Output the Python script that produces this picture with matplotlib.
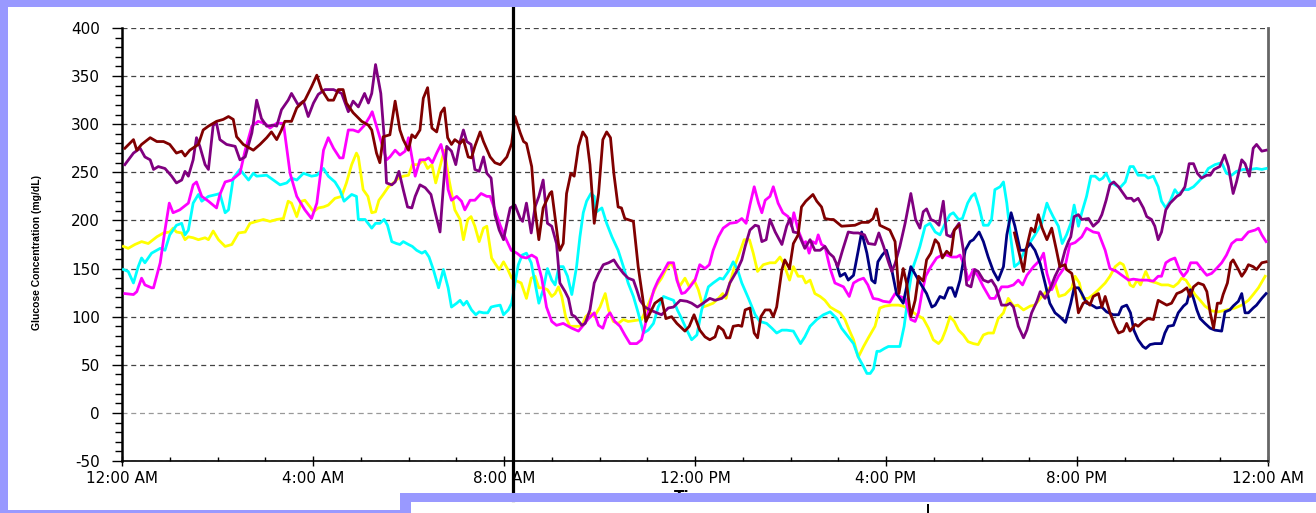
import numpy as np
import matplotlib
matplotlib.use('Agg')
import matplotlib.pyplot as plt
from matplotlib.patches import Rectangle
from matplotlib.ticker import MultipleLocator

plt.rcParams['axes.unicode_minus'] = False

# glucose readings, (hour of day, mg/dL); nan = gap in the trace
maroon = [
    (0.06, 275), (0.24, 284), (0.31, 273), (0.41, 279), (0.59, 286), (0.73, 282), (0.87, 282), (1.00, 279),
    (1.14, 270), (1.25, 272), (1.32, 267), (1.42, 273), (1.60, 279), (1.70, 294), (1.81, 298), (1.98, 303),
    (2.12, 305), (2.23, 308), (2.33, 305), (2.40, 287), (2.54, 279), (2.75, 273), (2.89, 279), (3.03, 286),
    (3.13, 292), (3.24, 284), (3.34, 294), (3.41, 303), (3.55, 303), (3.66, 317), (3.83, 325), (3.97, 339),
    (4.08, 351), (4.18, 336), (4.32, 325), (4.43, 325), (4.53, 336), (4.63, 336), (4.70, 322), (4.84, 312),
    (5.02, 303), (5.16, 299), (5.23, 294), (5.33, 270), (5.40, 260), (5.47, 287), (5.61, 289), (5.72, 324),
    (5.82, 294), (5.89, 284), (6.00, 273), (6.07, 289), (6.14, 286), (6.24, 294), (6.31, 327), (6.40, 338),
    (6.49, 296), (6.59, 292), (6.68, 312), (6.75, 317), (6.82, 286), (6.90, 279), (6.97, 284), (7.08, 280),
    (7.15, 284), (7.25, 266), (7.32, 265), (7.39, 277), (7.50, 292), (7.57, 282), (7.71, 266), (7.81, 260),
    (7.92, 258), (8.06, 266), (8.16, 280), (8.23, 308), (8.34, 291), (8.41, 282), (8.47, 280), (8.58, 256),
    (8.65, 211), (8.73, 180), (8.82, 213), (8.96, 228), (9.00, 230), (9.14, 176), (9.17, 169), (9.24, 176),
    (9.31, 228), (9.40, 249), (9.47, 246), (9.56, 277), (9.65, 292), (9.73, 286), (9.80, 258), (9.89, 197),
    (9.98, 228), (10.07, 284), (10.15, 292), (10.23, 286), (10.30, 249), (10.39, 214), (10.46, 213), (10.53, 202),
    (10.71, 199), (10.81, 152), (10.90, 121), (10.97, 95), (11.06, 104), (11.16, 114), (11.30, 119), (11.39, 98),
    (11.51, 100), (11.62, 93), (11.79, 85), (11.88, 90), (11.98, 102), (12.10, 86), (12.21, 79), (12.31, 76),
    (12.42, 79), (12.49, 90), (12.59, 86), (12.66, 78), (12.73, 78), (12.80, 90), (12.91, 91), (12.98, 90),
    (13.05, 107), (13.15, 109), (13.24, 83), (13.31, 78), (13.38, 100), (13.47, 107), (13.57, 107), (13.64, 100),
    (13.71, 110), (13.82, 149), (13.88, 159), (13.98, 150), (14.06, 176), (14.16, 185), (14.23, 214), (14.32, 220),
    (14.47, 227), (14.55, 220), (14.65, 214), (14.72, 202), (14.83, 201), (14.90, 201), (15.07, 194), (15.35, 195),
    (15.49, 198), (15.63, 198), (15.73, 202), (15.80, 212), (15.87, 195), (16.08, 190), (16.19, 178), (16.27, 124),
    (16.36, 150), (16.43, 135), (16.52, 100), (16.61, 117), (16.68, 142), (16.78, 137), (16.85, 159), (16.94, 166),
    (17.03, 180), (17.10, 176), (17.18, 161), (17.27, 168), (17.36, 164), (17.43, 190), (17.53, 195),
    (np.nan, np.nan),
    (18.69, 187), (18.88, 147), (18.95, 173), (19.04, 192), (19.11, 188), (19.19, 206), (19.27, 192), (19.37, 180),
    (19.47, 192), (19.57, 169), (19.64, 152), (19.75, 154), (19.78, 149), (19.89, 145), (19.96, 128), (20.03, 104),
    (20.13, 114), (20.20, 116), (20.27, 112), (20.34, 121), (20.45, 124), (20.52, 110), (20.59, 121), (20.69, 104),
    (20.80, 90), (20.87, 83), (20.97, 85), (21.04, 93), (21.11, 85), (21.22, 92), (21.28, 90), (21.39, 95),
    (21.49, 98), (21.60, 97), (21.70, 117), (21.81, 114), (21.88, 112), (21.98, 114), (22.09, 124), (22.19, 126),
    (22.30, 130), (22.37, 121), (22.44, 131), (22.54, 135), (22.65, 133), (22.72, 126), (22.79, 104), (22.86, 88),
    (22.94, 114), (23.01, 114), (23.06, 123), (23.15, 135), (23.22, 156), (23.27, 159), (23.38, 149), (23.45, 142),
    (23.52, 147), (23.59, 154), (23.69, 152), (23.76, 149), (23.87, 156), (23.96, 157),
]

purple = [
    (0.06, 258), (0.24, 270), (0.38, 275), (0.48, 266), (0.59, 263), (0.66, 253), (0.76, 256), (0.90, 254),
    (1.04, 246), (1.14, 239), (1.25, 242), (1.32, 251), (1.39, 246), (1.49, 263), (1.56, 286), (1.63, 277),
    (1.74, 258), (1.81, 253), (1.91, 299), (1.98, 301), (2.05, 284), (2.19, 279), (2.37, 277), (2.47, 263),
    (2.58, 266), (2.72, 291), (2.82, 325), (2.92, 306), (3.03, 298), (3.17, 299), (3.24, 298), (3.34, 315),
    (3.48, 325), (3.55, 332), (3.69, 320), (3.80, 324), (3.90, 308), (4.01, 322), (4.11, 331), (4.25, 336),
    (4.43, 336), (4.60, 332), (4.74, 313), (4.84, 324), (4.95, 318), (5.08, 332), (5.16, 322), (5.23, 332),
    (5.31, 362), (5.42, 332), (5.49, 287), (5.54, 239), (5.65, 237), (5.72, 240), (5.80, 251), (5.89, 232),
    (5.98, 214), (6.07, 213), (6.14, 225), (6.24, 237), (6.35, 234), (6.47, 227), (6.56, 208), (6.66, 188),
    (6.73, 235), (6.80, 277), (6.90, 272), (6.99, 258), (7.08, 282), (7.15, 294), (7.22, 282), (7.31, 279),
    (7.39, 253), (7.48, 251), (7.57, 266), (7.64, 249), (7.73, 244), (7.81, 206), (7.90, 190), (7.99, 180),
    (8.06, 197), (8.13, 213), (8.23, 216), (8.34, 202), (8.39, 199), (8.47, 218), (8.57, 187), (8.65, 214),
    (8.73, 225), (8.82, 242), (8.91, 197), (9.00, 194), (9.10, 176), (9.17, 135), (9.28, 126), (9.35, 119),
    (9.42, 102), (9.49, 100), (9.63, 91), (9.70, 93), (9.80, 107), (9.89, 135), (9.98, 145), (10.08, 154),
    (10.19, 156), (10.30, 159), (10.39, 152), (10.50, 145), (10.60, 140), (10.71, 138), (10.78, 128), (10.85, 117),
    (10.95, 110), (11.06, 107), (11.20, 104), (11.30, 102), (11.44, 109), (11.55, 110), (11.69, 117), (11.83, 116),
    (11.93, 114), (12.05, 110), (12.17, 114), (12.31, 119), (12.42, 117), (12.56, 119), (12.65, 123), (12.73, 135),
    (12.87, 147), (12.98, 159), (13.05, 173), (13.15, 190), (13.26, 195), (13.33, 194), (13.40, 178), (13.49, 180),
    (13.57, 201), (13.68, 188), (13.82, 175), (13.92, 194), (13.99, 202), (14.06, 188), (14.16, 187), (14.30, 171),
    (14.41, 180), (14.51, 169), (14.62, 169), (14.72, 173), (14.81, 166), (14.90, 162), (14.99, 152), (15.09, 169),
    (15.21, 188), (15.32, 187), (15.42, 187), (15.55, 185), (15.63, 176), (15.77, 175), (15.85, 187), (15.95, 173),
    (16.05, 157), (16.12, 147), (16.19, 155), (16.29, 173), (16.40, 197), (16.52, 228), (16.62, 201), (16.71, 192),
    (16.78, 209), (16.85, 212), (16.94, 201), (17.03, 199), (17.11, 195), (17.20, 220), (17.27, 185), (17.36, 183),
    (17.43, 190), (17.53, 197), (17.62, 169), (17.69, 133), (17.78, 131), (17.86, 149), (17.93, 147), (18.04, 138),
    (18.14, 136), (18.21, 138), (18.30, 131), (18.42, 112), (18.53, 112), (18.60, 114), (18.67, 110), (18.77, 90),
    (18.88, 78), (18.95, 86), (19.05, 104), (19.16, 116), (19.23, 126), (19.33, 119), (19.43, 128), (19.54, 142),
    (19.61, 149), (19.68, 156), (19.75, 169), (19.82, 178), (19.87, 183), (19.94, 204), (20.03, 206), (20.10, 201),
    (20.24, 202), (20.34, 194), (20.45, 199), (20.52, 206), (20.61, 221), (20.69, 237), (20.77, 240), (20.87, 235),
    (20.97, 228), (21.04, 223), (21.14, 223), (21.19, 220), (21.28, 223), (21.39, 213), (21.46, 204), (21.56, 201),
    (21.63, 194), (21.70, 180), (21.77, 188), (21.86, 211), (21.95, 218), (22.09, 225), (22.16, 227), (22.26, 235),
    (22.35, 259), (22.44, 259), (22.52, 249), (22.61, 244), (22.72, 247), (22.79, 247), (22.87, 253), (22.99, 256),
    (23.09, 268), (23.17, 256), (23.27, 228), (23.34, 240), (23.45, 263), (23.52, 259), (23.61, 246), (23.69, 275),
    (23.76, 279), (23.87, 272), (23.96, 273),
]

magenta = [
    (0.06, 124), (0.24, 123), (0.31, 126), (0.41, 140), (0.48, 133), (0.62, 130), (0.66, 130), (0.80, 156),
    (0.90, 190), (0.99, 218), (1.07, 208), (1.21, 211), (1.39, 218), (1.49, 237), (1.56, 240), (1.67, 225),
    (1.81, 220), (1.98, 213), (2.05, 227), (2.16, 240), (2.30, 242), (2.47, 249), (2.58, 273), (2.72, 298),
    (2.85, 303), (2.99, 301), (3.10, 296), (3.24, 301), (3.38, 301), (3.52, 249), (3.66, 225), (3.83, 211),
    (3.97, 202), (4.08, 218), (4.22, 273), (4.32, 286), (4.43, 275), (4.56, 265), (4.63, 265), (4.74, 294),
    (4.84, 294), (4.95, 292), (5.08, 299), (5.19, 308), (5.24, 313), (5.33, 298), (5.44, 280), (5.54, 263),
    (5.61, 266), (5.72, 273), (5.82, 268), (5.93, 272), (6.00, 286), (6.08, 263), (6.14, 246), (6.24, 263),
    (6.35, 263), (6.42, 265), (6.50, 260), (6.59, 270), (6.68, 279), (6.76, 263), (6.83, 232), (6.90, 221),
    (7.01, 225), (7.11, 220), (7.18, 211), (7.29, 221), (7.39, 221), (7.52, 228), (7.64, 225), (7.71, 225),
    (7.81, 211), (7.92, 195), (8.02, 183), (8.15, 169), (8.27, 166), (8.37, 162), (8.47, 161), (8.58, 164),
    (8.68, 161), (8.79, 140), (8.89, 110), (9.00, 95), (9.10, 91), (9.24, 93), (9.42, 88), (9.56, 85),
    (9.66, 91), (9.77, 98), (9.89, 104), (9.98, 91), (10.07, 88), (10.15, 100), (10.22, 104), (10.32, 95),
    (10.43, 90), (10.53, 81), (10.64, 72), (10.78, 72), (10.88, 76), (10.95, 90), (11.06, 114), (11.14, 128),
    (11.23, 138), (11.34, 147), (11.44, 156), (11.55, 156), (11.62, 138), (11.72, 124), (11.79, 125), (11.88, 130),
    (12.00, 138), (12.10, 154), (12.21, 150), (12.30, 154), (12.38, 169), (12.49, 183), (12.59, 192), (12.73, 197),
    (12.87, 198), (12.98, 202), (13.07, 197), (13.15, 216), (13.24, 235), (13.33, 218), (13.40, 208), (13.47, 221),
    (13.57, 225), (13.64, 235), (13.74, 218), (13.84, 208), (13.95, 204), (14.02, 194), (14.07, 208), (14.16, 190),
    (14.27, 176), (14.32, 178), (14.39, 166), (14.46, 178), (14.53, 176), (14.58, 185), (14.65, 175), (14.72, 173),
    (14.83, 150), (14.93, 135), (15.11, 131), (15.23, 121), (15.32, 135), (15.42, 138), (15.53, 140), (15.62, 133),
    (15.73, 119), (15.84, 118), (15.94, 116), (16.08, 115), (16.19, 124), (16.29, 121), (16.40, 119), (16.52, 97),
    (16.61, 95), (16.68, 104), (16.75, 124), (16.83, 142), (16.94, 152), (17.06, 161), (17.17, 164), (17.27, 164),
    (17.38, 162), (17.48, 162), (17.55, 164), (17.65, 152), (17.72, 138), (17.83, 149), (17.93, 142), (18.04, 131),
    (18.18, 119), (18.28, 119), (18.42, 131), (18.55, 131), (18.67, 133), (18.77, 138), (18.86, 133), (18.95, 143),
    (19.09, 152), (19.23, 159), (19.30, 166), (19.37, 145), (19.47, 128), (19.61, 142), (19.75, 152), (19.85, 175),
    (19.96, 177), (20.10, 183), (20.20, 192), (20.34, 188), (20.45, 187), (20.59, 169), (20.69, 150), (20.83, 147),
    (20.97, 142), (21.08, 138), (21.18, 139), (21.32, 138), (21.46, 138), (21.60, 137), (21.70, 142), (21.77, 142),
    (21.86, 156), (21.95, 159), (22.05, 161), (22.16, 147), (22.23, 142), (22.31, 147), (22.38, 156), (22.51, 156),
    (22.65, 147), (22.72, 143), (22.82, 145), (22.92, 150), (23.03, 156), (23.13, 164), (23.24, 176), (23.34, 180),
    (23.45, 180), (23.59, 188), (23.73, 190), (23.80, 192), (23.87, 185), (23.96, 178),
]

cyan = [
    (0.03, 149), (0.13, 147), (0.24, 135), (0.34, 152), (0.41, 161), (0.48, 156), (0.62, 166), (0.80, 171),
    (0.90, 169), (1.00, 185), (1.14, 195), (1.25, 197), (1.32, 185), (1.39, 190), (1.49, 218), (1.60, 227),
    (1.67, 220), (1.81, 225), (1.98, 227), (2.05, 228), (2.16, 208), (2.23, 211), (2.33, 244), (2.47, 253),
    (2.65, 242), (2.75, 249), (2.82, 246), (3.03, 247), (3.17, 242), (3.31, 237), (3.45, 239), (3.55, 244),
    (3.66, 242), (3.80, 249), (3.97, 246), (4.08, 247), (4.22, 254), (4.32, 246), (4.46, 240), (4.56, 232),
    (4.65, 220), (4.81, 227), (4.91, 225), (4.95, 201), (5.09, 201), (5.23, 192), (5.31, 197), (5.40, 197),
    (5.49, 201), (5.56, 195), (5.65, 178), (5.75, 176), (5.82, 175), (5.89, 178), (6.00, 175), (6.08, 173),
    (6.17, 169), (6.28, 166), (6.35, 168), (6.43, 162), (6.52, 149), (6.63, 130), (6.73, 149), (6.83, 130),
    (6.90, 110), (7.01, 114), (7.08, 117), (7.15, 112), (7.22, 116), (7.32, 107), (7.41, 102), (7.48, 105),
    (7.57, 104), (7.66, 104), (7.73, 110), (7.81, 111), (7.92, 112), (7.99, 102), (8.09, 107), (8.16, 114),
    (8.23, 135), (8.30, 154), (8.38, 164), (8.47, 166), (8.57, 156), (8.65, 135), (8.73, 114), (8.82, 128),
    (8.91, 150), (9.00, 138), (9.07, 133), (9.15, 152), (9.24, 152), (9.33, 142), (9.42, 123), (9.52, 152),
    (9.59, 183), (9.66, 208), (9.73, 220), (9.82, 228), (9.89, 225), (9.91, 208), (10.05, 213), (10.15, 197),
    (10.26, 183), (10.39, 169), (10.50, 152), (10.60, 135), (10.71, 121), (10.81, 104), (10.92, 83), (11.02, 86),
    (11.13, 93), (11.23, 110), (11.34, 121), (11.44, 119), (11.55, 117), (11.63, 107), (11.72, 98), (11.83, 86),
    (11.93, 76), (12.04, 81), (12.14, 107), (12.28, 131), (12.38, 135), (12.52, 140), (12.59, 139), (12.70, 147),
    (12.80, 157), (12.89, 149), (12.98, 135), (13.12, 119), (13.26, 102), (13.36, 95), (13.50, 93), (13.61, 88),
    (13.71, 83), (13.82, 86), (13.92, 86), (14.06, 85), (14.21, 72), (14.30, 79), (14.41, 90), (14.55, 97),
    (14.69, 102), (14.83, 105), (14.97, 98), (15.07, 88), (15.21, 79), (15.32, 72), (15.42, 58), (15.53, 48),
    (15.60, 41), (15.67, 41), (15.74, 46), (15.81, 64), (15.87, 64), (15.97, 67), (16.05, 69), (16.15, 69),
    (16.29, 69), (16.38, 90), (16.47, 124), (16.55, 149), (16.64, 162), (16.71, 173), (16.82, 194), (16.92, 197),
    (17.03, 188), (17.13, 185), (17.24, 197), (17.34, 206), (17.41, 208), (17.52, 201), (17.60, 202), (17.71, 218),
    (17.79, 225), (17.86, 228), (17.95, 214), (18.04, 195), (18.14, 195), (18.21, 201), (18.28, 232), (18.39, 235),
    (18.46, 240), (18.53, 218), (18.61, 183), (18.69, 152), (18.79, 156), (18.88, 166), (19.00, 176), (19.12, 185),
    (19.26, 197), (19.37, 218), (19.41, 213), (19.50, 204), (19.61, 194), (19.69, 176), (19.78, 185), (19.87, 197),
    (19.94, 216), (20.03, 194), (20.10, 208), (20.20, 225), (20.29, 246), (20.38, 246), (20.47, 242), (20.54, 244),
    (20.61, 249), (20.69, 240), (20.80, 237), (20.90, 234), (21.01, 240), (21.11, 256), (21.18, 256), (21.28, 247),
    (21.42, 247), (21.49, 244), (21.60, 246), (21.70, 235), (21.77, 220), (21.86, 213), (21.95, 220), (22.05, 232),
    (22.12, 227), (22.23, 232), (22.33, 232), (22.44, 235), (22.54, 240), (22.65, 246), (22.75, 254), (22.89, 258),
    (23.03, 260), (23.13, 249), (23.24, 247), (23.34, 251), (23.48, 253), (23.62, 253), (23.76, 254), (23.87, 253),
    (23.96, 254),
]

yellow = [
    (0.03, 173), (0.13, 171), (0.27, 175), (0.41, 178), (0.55, 176), (0.73, 183), (0.87, 187), (1.00, 188),
    (1.07, 192), (1.14, 188), (1.25, 187), (1.32, 180), (1.39, 183), (1.49, 182), (1.60, 180), (1.74, 182),
    (1.81, 180), (1.91, 189), (2.02, 180), (2.16, 173), (2.30, 175), (2.44, 187), (2.58, 188), (2.68, 197),
    (2.82, 199), (2.96, 201), (3.10, 199), (3.24, 201), (3.38, 202), (3.48, 220), (3.55, 218), (3.66, 204),
    (3.76, 220), (3.83, 221), (3.94, 214), (4.01, 209), (4.11, 213), (4.22, 214), (4.32, 216), (4.46, 223),
    (4.60, 225), (4.70, 239), (4.81, 258), (4.91, 270), (4.95, 266), (5.05, 232), (5.15, 225), (5.23, 208),
    (5.31, 209), (5.38, 221), (5.47, 227), (5.58, 235), (5.68, 239), (5.79, 244), (5.89, 246), (6.00, 247),
    (6.08, 258), (6.21, 258), (6.31, 263), (6.40, 254), (6.49, 258), (6.57, 239), (6.66, 256), (6.75, 273),
    (6.85, 242), (6.97, 211), (7.08, 201), (7.15, 180), (7.24, 201), (7.31, 204), (7.39, 194), (7.48, 178),
    (7.57, 192), (7.64, 194), (7.74, 161), (7.83, 154), (7.90, 149), (7.99, 157), (8.08, 149), (8.16, 140),
    (8.27, 137), (8.36, 135), (8.47, 119), (8.57, 140), (8.65, 142), (8.73, 130), (8.82, 130), (8.91, 128),
    (9.00, 121), (9.07, 124), (9.14, 131), (9.21, 121), (9.29, 100), (9.38, 90), (9.52, 90), (9.63, 90),
    (9.71, 100), (9.80, 104), (9.89, 100), (10.01, 110), (10.12, 124), (10.19, 107), (10.29, 95), (10.39, 93),
    (10.50, 97), (10.60, 95), (10.74, 96), (10.88, 97), (10.99, 109), (11.09, 121), (11.20, 133), (11.30, 140),
    (11.39, 149), (11.49, 156), (11.58, 149), (11.67, 131), (11.79, 140), (11.88, 131), (11.98, 138), (12.07, 128),
    (12.17, 110), (12.28, 112), (12.38, 114), (12.49, 119), (12.58, 124), (12.65, 119), (12.73, 135), (12.84, 154),
    (12.93, 166), (13.03, 180), (13.14, 180), (13.22, 166), (13.31, 147), (13.43, 154), (13.57, 156), (13.68, 156),
    (13.78, 162), (13.85, 156), (13.98, 138), (14.06, 152), (14.16, 142), (14.25, 142), (14.32, 135), (14.41, 138),
    (14.51, 124), (14.62, 121), (14.72, 117), (14.83, 110), (14.93, 107), (15.04, 104), (15.14, 97), (15.23, 86),
    (15.32, 76), (15.42, 58), (15.53, 69), (15.63, 78), (15.77, 90), (15.87, 109), (15.98, 111), (16.12, 112),
    (16.26, 112), (16.36, 111), (16.50, 107), (16.64, 102), (16.78, 98), (16.89, 88), (16.99, 76), (17.10, 72),
    (17.17, 76), (17.25, 86), (17.34, 100), (17.43, 95), (17.52, 86), (17.62, 81), (17.72, 74), (17.83, 72),
    (17.93, 71), (18.04, 81), (18.14, 83), (18.25, 83), (18.35, 98), (18.46, 104), (18.56, 119), (18.67, 111),
    (18.76, 112), (18.88, 107), (19.02, 111), (19.12, 112), (19.23, 119), (19.30, 123), (19.39, 128), (19.47, 133),
    (19.54, 135), (19.62, 121), (19.75, 123), (19.89, 130), (19.96, 142), (20.05, 135), (20.12, 119), (20.24, 119),
    (20.34, 123), (20.45, 128), (20.59, 135), (20.69, 142), (20.80, 152), (20.90, 156), (20.97, 154), (21.04, 145),
    (21.11, 133), (21.18, 131), (21.26, 138), (21.33, 133), (21.44, 147), (21.53, 137), (21.67, 135), (21.77, 133),
    (21.91, 133), (22.02, 131), (22.12, 135), (22.19, 140), (22.28, 138), (22.37, 131), (22.47, 123), (22.58, 117),
    (22.68, 111), (22.82, 106), (22.96, 105), (23.13, 107), (23.31, 109), (23.45, 112), (23.59, 117), (23.69, 123),
    (23.80, 130), (23.94, 142),
]

navy = [
    (14.97, 154), (15.04, 142), (15.14, 145), (15.21, 138), (15.32, 143), (15.42, 169), (15.49, 188), (15.60, 166),
    (15.70, 138), (15.77, 135), (15.83, 157), (15.92, 164), (16.01, 169), (16.12, 149), (16.22, 124), (16.36, 114),
    (16.52, 152), (16.68, 138), (16.85, 124), (16.96, 110), (17.03, 112), (17.13, 121), (17.22, 119), (17.31, 130),
    (17.38, 130), (17.45, 121), (17.55, 138), (17.66, 169), (17.76, 178), (17.83, 180), (17.95, 188), (18.04, 178),
    (18.14, 162), (18.25, 147), (18.35, 138), (18.46, 152), (18.53, 185), (18.62, 208), (18.70, 194), (18.81, 169),
    (18.91, 169), (19.02, 176), (19.12, 169), (19.23, 155), (19.33, 135), (19.43, 114), (19.54, 104), (19.64, 100),
    (19.76, 94), (19.87, 114), (19.94, 130), (20.03, 130), (20.10, 124), (20.20, 114), (20.31, 112), (20.41, 109),
    (20.52, 110), (20.62, 105), (20.76, 102), (20.87, 102), (20.94, 110), (21.04, 112), (21.12, 104), (21.19, 86),
    (21.28, 76), (21.38, 69), (21.44, 67), (21.53, 71), (21.63, 72), (21.77, 72), (21.84, 83), (21.91, 90),
    (22.02, 91), (22.12, 104), (22.23, 111), (22.30, 114), (22.37, 128), (22.44, 119), (22.51, 107), (22.58, 98),
    (22.68, 93), (22.79, 88), (22.89, 86), (23.03, 85), (23.10, 105), (23.20, 107), (23.27, 111), (23.38, 116),
    (23.45, 124), (23.52, 104), (23.59, 104), (23.69, 109), (23.76, 112), (23.87, 119), (23.96, 124),
]

tick_hours = [0, 4, 8, 12, 16, 20, 24]
tick_labels = ['12:00 AM', '4:00 AM', '8:00 AM', '12:00 PM', '4:00 PM', '8:00 PM', '12:00 AM']
marker_hour = 8.19   # the black vertical marker

W, H = 1316, 513
LAVENDER = '#9999FF'


def px_rect(fig, x0, y0, x1, y1, color):
    # rectangle given in image pixels, origin top-left
    r = Rectangle((x0 / W, 1 - y1 / H), (x1 - x0) / W, (y1 - y0) / H,
                  transform=fig.transFigure, facecolor=color, edgecolor='none', zorder=10)
    fig.patches.append(r)


fig = plt.figure(figsize=(W / 100, H / 100), dpi=100)
fig.patch.set_facecolor('white')
ax = fig.add_axes([122 / W, 52 / H, 1146 / W, 433 / H])

series = [(yellow, '#FFFF00'), (cyan, '#00FFFF'), (magenta, '#FF00FF'),
          (navy, '#000080'), (purple, '#800080'), (maroon, '#800000')]
for pts, col in series:
    h, g = np.array(pts, dtype=float).T
    ax.plot(h, g, color=col, lw=2.0, solid_joinstyle='round', zorder=3)

ax.axvline(marker_hour, ymin=-0.09, ymax=1.05, color='black', lw=2.3, clip_on=False, zorder=5)

ax.set_xlim(0, 24)
ax.set_ylim(-50, 400)
ax.set_xticks(tick_hours)
ax.set_xticklabels(tick_labels)
ax.xaxis.set_minor_locator(MultipleLocator(1))
ax.yaxis.set_major_locator(MultipleLocator(50))
ax.yaxis.set_minor_locator(MultipleLocator(10))

ax.yaxis.grid(True, which='major', linestyle=(0, (4, 3)), color='#444444', lw=0.9)
ax.set_axisbelow(True)
for val, gl in zip(ax.get_yticks(), ax.get_ygridlines()):
    if val == 0:
        gl.set_color('#999999')

ax.spines['top'].set_visible(False)
ax.spines['left'].set_linewidth(1.8)
ax.spines['bottom'].set_linewidth(1.2)
ax.spines['right'].set_color('#666666')
ax.spines['right'].set_linewidth(2.0)

ax.tick_params(axis='y', which='major', direction='out', length=7, width=1, labelsize=11, pad=9)
ax.tick_params(axis='y', which='minor', direction='out', length=5, width=1)
ax.tick_params(axis='x', which='major', direction='inout', length=7, width=1, labelsize=11, pad=4)
ax.tick_params(axis='x', which='minor', direction='in', length=3, width=1)

fig.text(37 / W, 1 - 252 / H, 'Glucose Concentration (mg/dL)', rotation=90,
         ha='center', va='center', fontsize=7.5, fontweight='bold', family='Liberation Sans')
fig.text(695 / W, 1 - 490 / H, 'Time', ha='center', va='top', fontsize=11, fontweight='bold')

# lavender slide frame around the screenshot
px_rect(fig, 0, 0, W, 7, LAVENDER)
px_rect(fig, 0, 0, 8, H, LAVENDER)
px_rect(fig, 0, 510, 411, H, LAVENDER)
px_rect(fig, 400, 493, 411, H, LAVENDER)
px_rect(fig, 400, 493, W, 502, LAVENDER)
px_rect(fig, 927, 504, 929, H, 'black')

fig.savefig('out.png', dpi=100)
